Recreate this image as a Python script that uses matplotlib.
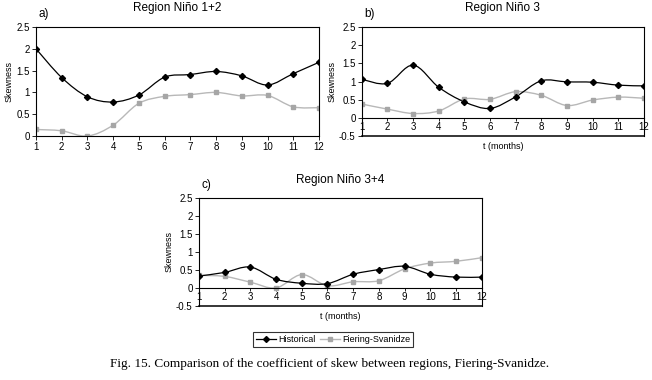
import numpy as np
import matplotlib.pyplot as plt
from matplotlib.path import Path
from matplotlib.patches import PathPatch
from matplotlib.lines import Line2D

plt.rcParams['font.family'] = ['Liberation Sans', 'DejaVu Sans']

months = np.arange(1, 13)

# skewness per month
hist_12 = [2.0, 1.34, 0.90, 0.78, 0.94, 1.35, 1.41, 1.48, 1.38, 1.17, 1.43, 1.69]
fs_12 = [0.15, 0.12, 0.0, 0.25, 0.75, 0.91, 0.95, 1.0, 0.92, 0.93, 0.67, 0.65]

hist_3 = [1.06, 0.95, 1.45, 0.84, 0.44, 0.26, 0.58, 1.02, 0.99, 0.98, 0.90, 0.88]
fs_3 = [0.38, 0.24, 0.12, 0.19, 0.52, 0.51, 0.72, 0.62, 0.34, 0.49, 0.57, 0.54]

hist_34 = [0.33, 0.43, 0.58, 0.24, 0.13, 0.12, 0.38, 0.51, 0.60, 0.38, 0.30, 0.30]
fs_34 = [0.35, 0.32, 0.16, 0.0, 0.37, 0.06, 0.17, 0.20, 0.53, 0.69, 0.74, 0.84]

panels = [
    ('a)', 'Region Niño 1+2', hist_12, fs_12, (0.0552, 0.642, 0.434, 0.287), 0.0, False),
    ('b)', 'Region Niño 3', hist_3, fs_3, (0.555, 0.642, 0.4325, 0.287), -0.5, True),
    ('c)', 'Region Niño 3+4', hist_34, fs_34, (0.305, 0.195, 0.434, 0.284), -0.5, True),
]

HCOL = 'black'
FCOL = '#a6a6a6'
FLINE = '#b8b8b8'


def smooth_path(x, y):
    # excel style smoothed line as cubic bezier segments
    pts = np.column_stack([x, y]).astype(float)
    n = len(pts)
    verts = [pts[0]]
    codes = [Path.MOVETO]
    for i in range(n - 1):
        p0 = pts[i - 1] if i > 0 else pts[i]
        p1 = pts[i]
        p2 = pts[i + 1]
        p3 = pts[i + 2] if i + 2 < n else pts[i + 1]
        c1 = p1 + (p2 - p0) / 6.0
        c2 = p2 - (p3 - p1) / 6.0
        verts += [c1, c2, p2]
        codes += [Path.CURVE4] * 3
    return Path(verts, codes)


fig = plt.figure(figsize=(6.52, 3.8), dpi=100)

for letter, title, hist, fs, rect, ymin, show_xlabel in panels:
    ax = fig.add_axes(rect)
    ax.set_xlim(1, 12)
    ax.set_ylim(ymin, 2.5)

    ax.add_patch(PathPatch(smooth_path(months, fs), fill=False, ec=FLINE, lw=1.0))
    ax.plot(months, fs, ls='none', marker='s', ms=3.3, color=FCOL, mec=FCOL)
    ax.add_patch(PathPatch(smooth_path(months, hist), fill=False, ec=HCOL, lw=0.9))
    ax.plot(months, hist, ls='none', marker='D', ms=3.1, color=HCOL)

    yt = np.arange(ymin, 2.51, 0.5)
    ax.set_yticks(yt)
    ax.set_yticklabels(['%g' % v for v in yt])
    ax.set_xticks(months)
    ax.tick_params(labelsize=7, length=3, width=0.6, pad=1.5, colors='black')

    for s in ax.spines.values():
        s.set_linewidth(0.8)

    if ymin < 0:
        # x axis crosses at zero, box still closes at -0.5
        ax.spines['bottom'].set_position(('data', 0))
        ax.axhline(ymin, color='black', lw=1.1, clip_on=False)
        ax.tick_params(axis='x', length=2, pad=1)

    ax.set_ylabel('Skewness', fontsize=6.5, labelpad=2)
    if show_xlabel:
        ax.text(0.5, -0.10, 't (months)', transform=ax.transAxes,
                ha='center', va='center', fontsize=6.5)

    ax.text(0.5, 1.17, title, transform=ax.transAxes, ha='center',
            va='center', fontsize=8.5)
    ax.text(0.01, 1.12, letter, transform=ax.transAxes, ha='left',
            va='center', fontsize=8.5)

handles = [
    Line2D([], [], color=HCOL, lw=0.9, marker='D', ms=3),
    Line2D([], [], color=FLINE, lw=1.0, marker='s', ms=3.3, mfc=FCOL, mec=FCOL),
]
leg = fig.legend(handles, ['Historical', 'Fiering-Svanidze'], loc='center',
                 bbox_to_anchor=(0.511, 0.106), ncol=2, fontsize=6.5,
                 frameon=True, fancybox=False, edgecolor='black',
                 handlelength=2.2, handletextpad=0.2, columnspacing=0.6,
                 borderpad=0.35, borderaxespad=0)
leg.get_frame().set_linewidth(0.8)

fig.text(0.505, 0.042,
         'Fig. 15. Comparison of the coefficient of skew between regions, Fiering-Svanidze.',
         ha='center', va='center', fontsize=9.5, family=['Liberation Serif'])

fig.savefig('out.png', dpi=100)
